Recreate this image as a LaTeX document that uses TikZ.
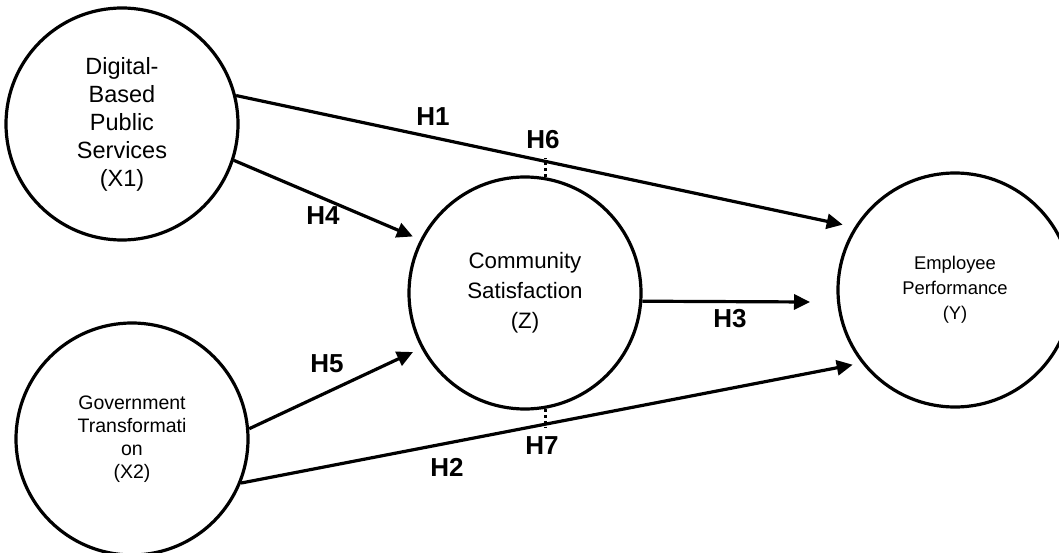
\documentclass[tikz,border=0pt]{standalone}
\usepackage{fontspec}
\setmainfont{Liberation Sans}
\usetikzlibrary{arrows.meta}
\begin{document}
\begin{tikzpicture}[x=1pt,y=-1pt,
  var/.style={circle,draw,line width=3.2pt,minimum size=232pt,inner sep=0pt,align=center},
  conn/.style={line width=3.2pt},
  arr/.style={conn,-{Triangle[length=16pt,width=15pt]}},
  dotline/.style={line width=3pt,dash pattern=on 3pt off 3pt},
  hlab/.style={font=\fontsize{26}{30}\selectfont\bfseries,inner sep=0pt}]
\useasboundingbox (0,0) rectangle (1059,553);
\node[var,font=\fontsize{23.5}{28}\selectfont] (X1) at (122,124) {Digital-\\Based\\Public\\Services\\(X1)};
\node[var,font=\fontsize{19.5}{23}\selectfont] (X2) at (132,439) {Government\\Transformati\\on\\(X2)};
\node[var,font=\fontsize{22.3}{30}\selectfont] (Z) at (525,293) {Community\\Satisfaction\\(Z)};
\node[var,minimum size=234pt,font=\fontsize{18.4}{25}\selectfont] (Y) at (955,290) {Employee\\Performance\\(Y)};
\coordinate (h3end) at (810,302);
\draw[arr,shorten >=12pt] (X1.14.4) -- (Y.148.5);
\draw[arr,shorten >=8pt] (X1.-18) -- (Z.153.2);
\draw[arr,shorten >=9pt] (X2.5.4) -- (Z.208.2);
\draw[arr,shorten >=9pt] (X2.-22.2) -- (Y.218.6);
\draw[arr] (Z.-4.5) -- (h3end);
\draw[dotline] (Z.80) -- ++(0,-19);
\draw[dotline] (Z.-80) -- ++(0,19);
\node[hlab] (H1) at (433,117) {H1};
\node[hlab] (H6) at (543,140) {H6};
\node[hlab] (H4) at (323,216) {H4};
\node[hlab] (H5) at (327,364) {H5};
\node[hlab] (H7) at (542,446) {H7};
\node[hlab] (H2) at (447,467) {H2};
\node[hlab] (H3) at (730,319) {H3};
\end{tikzpicture}
\end{document}
